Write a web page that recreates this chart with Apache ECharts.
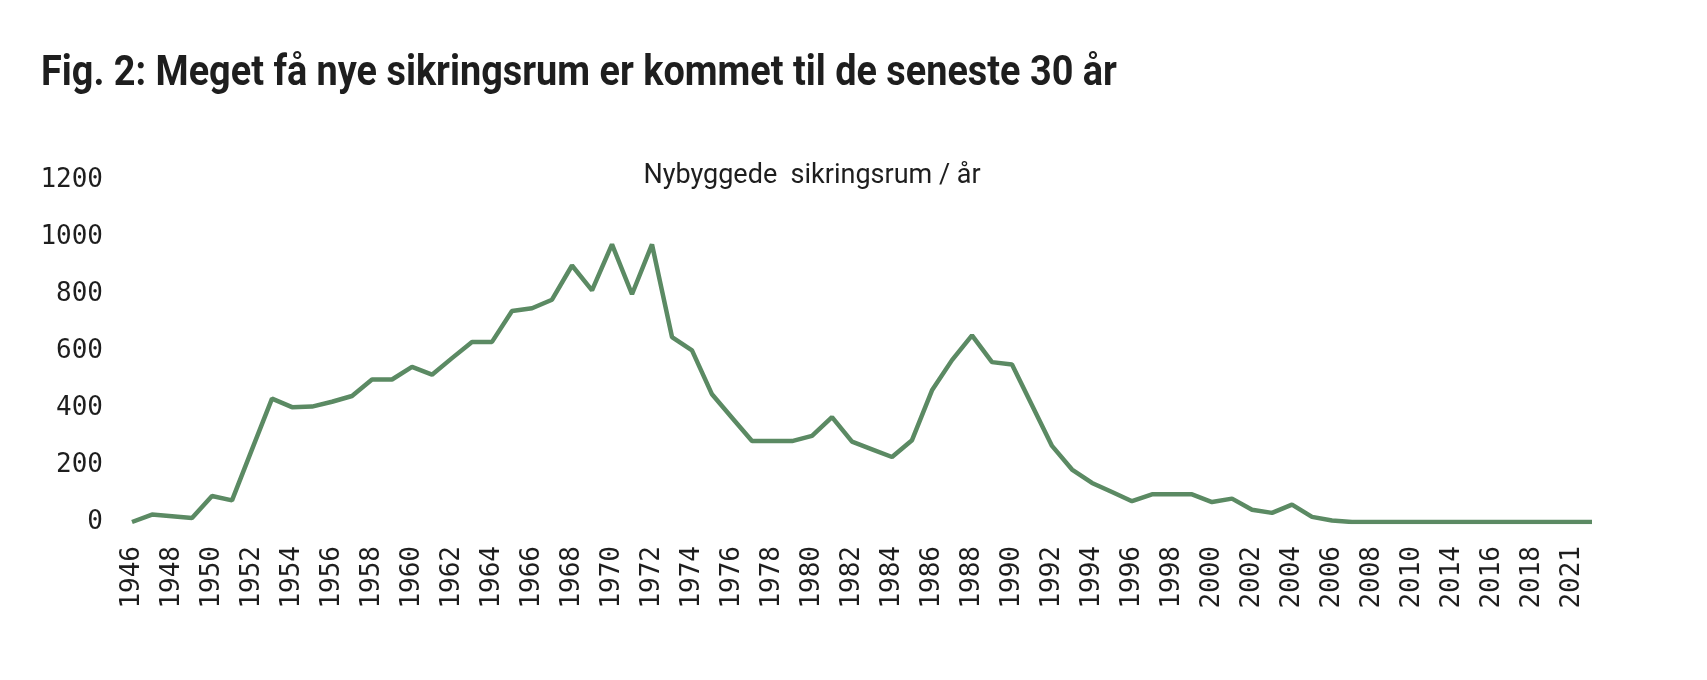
<!doctype html>
<html>
<head>
    <meta charset="utf-8">
    <title>Nybyggede sikringsrum</title>
    <script src="https://cdn.jsdelivr.net/npm/echarts@6/dist/echarts.min.js"></script>
    <style type="text/css">
        html, body { margin: 0; padding: 0; background: #fff; }
        #chart { width: 1707px; height: 680px; }
    </style>
</head>
<body>
    <div id="chart"></div>
    <script type="text/javascript">
        // years on the category axis (some later years are grouped in the source)
        var years = [
            '1946','1947','1948','1949','1950','1951','1952','1953','1954','1955',
            '1956','1957','1958','1959','1960','1961','1962','1963','1964','1965',
            '1966','1967','1968','1969','1970','1971','1972','1973','1974','1975',
            '1976','1977','1978','1979','1980','1981','1982','1983','1984','1985',
            '1986','1987','1988','1989','1990','1991','1992','1993','1994','1995',
            '1996','1997','1998','1999','2000','2001','2002','2003','2004','2005',
            '2006','2007','2008','2009','2010','2011-2013','2014','2015','2016','2017',
            '2018','2019-2020','2021','2022'
        ];
        // new shelters built per year
        var shelters = [
            0, 26, 20, 14, 91, 76, 255, 433, 403, 405,
            422, 442, 500, 500, 544, 517, 575, 632, 632, 740,
            750, 780, 900, 813, 974, 799, 974, 649, 602, 448,
            366, 284, 284, 284, 302, 368, 282, 255, 228, 287,
            462, 568, 655, 561, 553, 410, 267, 184, 137, 105,
            73, 97, 97, 97, 70, 82, 43, 32, 61, 18,
            5, 0, 0, 0, 0, 0, 0, 0, 0, 0,
            0, 0, 0, 0
        ];
        var yTicks = [0, 200, 400, 600, 800, 1000, 1200];

        var sans = "Roboto, 'Liberation Sans', sans-serif";
        var mono = "'DejaVu Sans Mono', 'Liberation Mono', monospace";

        var chart = echarts.init(document.getElementById('chart'));
        chart.setOption({
            animation: false,
            backgroundColor: '#ffffff',
            // heading is squeezed horizontally to get the condensed look of the original
            graphic: [{
                type: 'text',
                x: 41,
                y: 74,
                scaleX: 0.88,
                scaleY: 1,
                style: {
                    text: 'Fig. 2: Meget få nye sikringsrum er kommet til de seneste 30 år',
                    font: "bold 43px " + sans,
                    fill: '#1e1e1e',
                    align: 'left',
                    verticalAlign: 'middle'
                }
            }],
            title: {
                text: 'Nybyggede  sikringsrum / år',
                left: 807,
                top: 158,
                textAlign: 'center',
                textStyle: {
                    fontFamily: sans,
                    fontWeight: 'normal',
                    fontSize: 27,
                    color: '#1e1e1e'
                }
            },
            grid: {
                left: 132,
                right: 115,
                top: 180,
                bottom: 158,
                containLabel: false
            },
            xAxis: {
                type: 'category',
                data: years,
                boundaryGap: false,
                axisLine: { show: false },
                axisTick: { show: false },
                splitLine: { show: false },
                axisLabel: {
                    interval: 1,
                    rotate: 90,
                    margin: 24,
                    fontFamily: mono,
                    fontSize: 26,
                    color: '#1e1e1e'
                }
            },
            yAxis: {
                type: 'value',
                min: yTicks[0],
                max: yTicks[yTicks.length - 1],
                interval: 200,
                axisLine: { show: false },
                axisTick: { show: false },
                splitLine: { show: false },
                axisLabel: {
                    margin: 29,
                    fontFamily: mono,
                    fontSize: 26,
                    color: '#1e1e1e',
                    formatter: function (v) { return String(v); }
                }
            },
            series: [{
                name: 'Nybyggede sikringsrum',
                type: 'line',
                data: shelters,
                symbol: 'none',
                smooth: false,
                lineStyle: {
                    color: '#5b8a63',
                    width: 4.5
                }
            }]
        });
    </script>
</body>
</html>
